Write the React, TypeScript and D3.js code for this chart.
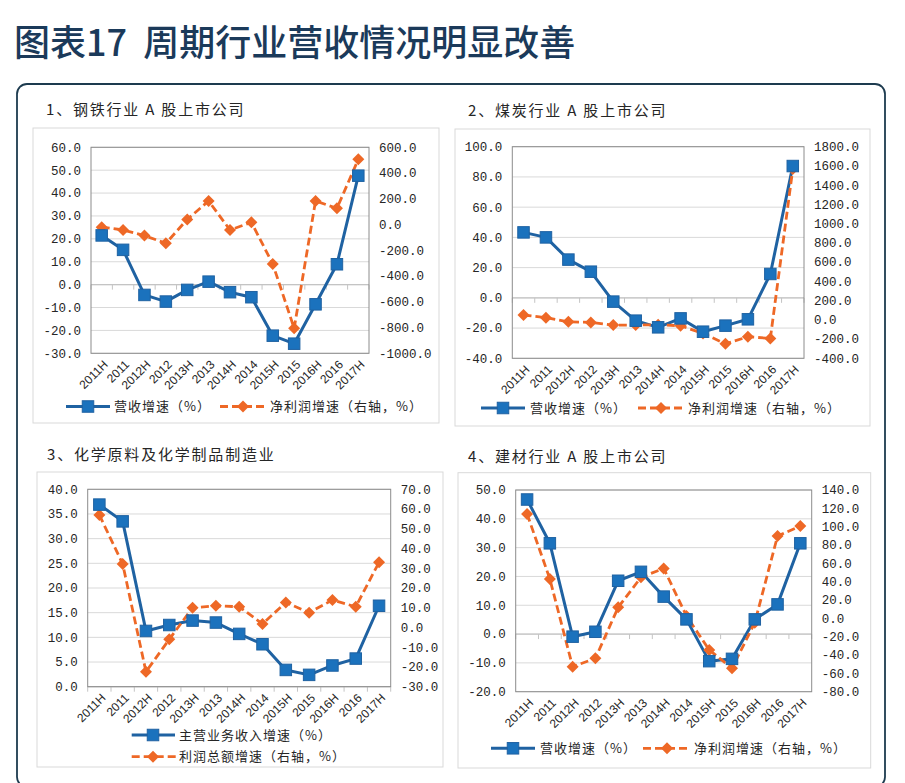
import React from "react";
import * as d3 from "d3";

// ---------- data ----------
const categories = ["2011H", "2011", "2012H", "2012", "2013H", "2013", "2014H", "2014", "2015H", "2015", "2016H", "2016", "2017H"];

const steelRevenue = [21.5, 15.2, -4.5, -7.4, -2.3, 1.3, -3.3, -5.5, -22.3, -25.8, -8.6, 8.9, 47.6];
const steelProfit = [-20, -42, -86, -146, 40, 183, -42, 17, -306, -806, 183, 126, 507];
const coalRevenue = [43.3, 40.0, 25.3, 17.3, -2.5, -15.1, -19.5, -13.6, -22.4, -18.4, -14.2, 15.8, 87.2];
const coalProfit = [50, 22, -20, -27, -55, -55, -50, -62, -141, -249, -176, -193, 1568];
const chemRevenue = [36.9, 33.5, 11.3, 12.5, 13.4, 13.0, 10.7, 8.6, 3.4, 2.4, 4.3, 5.7, 16.4];
const chemProfit = [57, 32.2, -22.4, -6, 10, 11, 10.5, 1.8, 12.7, 7.5, 13.9, 10.5, 33];
const buildRevenue = [46.7, 31.5, -0.9, 0.8, 18.5, 21.6, 13.0, 5.1, -9.4, -8.6, 5.1, 10.3, 31.5];
const buildProfit = [113.8, 43, -52.7, -43.6, 12, 44.7, 54.5, 2.6, -34.5, -54.5, -4.7, 89.8, 100.7];

const steelLeftTicks = [60, 50, 40, 30, 20, 10, 0, -10, -20, -30];
const steelRightTicks = [600, 400, 200, 0, -200, -400, -600, -800, -1000];
const coalLeftTicks = [100, 80, 60, 40, 20, 0, -20, -40];
const coalRightTicks = [1800, 1600, 1400, 1200, 1000, 800, 600, 400, 200, 0, -200, -400];
const chemLeftTicks = [40, 35, 30, 25, 20, 15, 10, 5, 0];
const chemRightTicks = [70, 60, 50, 40, 30, 20, 10, 0, -10, -20, -30];
const buildLeftTicks = [50, 40, 30, 20, 10, 0, -10, -20];
const buildRightTicks = [140, 120, 100, 80, 60, 40, 20, 0, -20, -40, -60, -80];

const mainTitle = "图表17  周期行业营收情况明显改善";
const panelTitles = ["1、钢铁行业 A 股上市公司", "2、煤炭行业 A 股上市公司", "3、化学原料及化学制品制造业", "4、建材行业 A 股上市公司"];
const revenueLabels = ["营收增速（%）", "营收增速（%）", "主营业务收入增速（%）", "营收增速（%）"];
const profitLabels = ["净利润增速（右轴，%）", "净利润增速（右轴，%）", "利润总额增速（右轴，%）", "净利润增速（右轴，%）"];

// ---------- styles ----------
const BLUE_LINE = "#1f62a2";
const BLUE_MARK = "#1b72bd";
const ORANGE = "#ee6826";
const GRID = "#d9d9d9";
const BORDER = "#8c8c8c";
const TEXT = "#262626";
const NUM_FONT = "'Liberation Mono', 'DejaVu Sans Mono', monospace";
const CJK_FONT = "'Noto Sans CJK SC', 'Noto Sans', sans-serif";
const LAT_FONT = "'Liberation Sans', Arial, sans-serif";

type Rect = { x0: number; y0: number; x1: number; y1: number };
type LegendItem = { x0: number; x1: number; mx: number; y: number; tx: number };
type PanelCfg = {
  frame: Rect;
  plot: Rect;
  title: string;
  titleX: number;
  titleY: number;
  rev: number[];
  prof: number[];
  leftTicks: number[];
  rightTicks: number[];
  revLabel: string;
  profLabel: string;
  revLeg: LegendItem;
  profLeg: LegendItem;
};

const panels: PanelCfg[] = [
  {
    frame: { x0: 33, y0: 128, x1: 439, y1: 423 },
    plot: { x0: 91, y0: 147.3, x1: 369, y1: 353.3 },
    title: panelTitles[0], titleX: 46, titleY: 110,
    rev: steelRevenue, prof: steelProfit,
    leftTicks: steelLeftTicks, rightTicks: steelRightTicks,
    revLabel: revenueLabels[0], profLabel: profitLabels[0],
    revLeg: { x0: 66, x1: 110, mx: 88, y: 406.5, tx: 114 },
    profLeg: { x0: 220, x1: 267, mx: 243, y: 406.5, tx: 270 },
  },
  {
    frame: { x0: 455, y0: 129, x1: 870, y1: 426 },
    plot: { x0: 512.3, y0: 146.7, x1: 804, y1: 358.3 },
    title: panelTitles[1], titleX: 468, titleY: 111,
    rev: coalRevenue, prof: coalProfit,
    leftTicks: coalLeftTicks, rightTicks: coalRightTicks,
    revLabel: revenueLabels[1], profLabel: profitLabels[1],
    revLeg: { x0: 481, x1: 525, mx: 503, y: 408, tx: 530 },
    profLeg: { x0: 638, x1: 685, mx: 661, y: 408, tx: 688 },
  },
  {
    frame: { x0: 37, y0: 472, x1: 443, y1: 767 },
    plot: { x0: 87.7, y0: 489.3, x1: 390.7, y1: 686.7 },
    title: panelTitles[2], titleX: 47, titleY: 455,
    rev: chemRevenue, prof: chemProfit,
    leftTicks: chemLeftTicks, rightTicks: chemRightTicks,
    revLabel: revenueLabels[2], profLabel: profitLabels[2],
    revLeg: { x0: 131.7, x1: 175, mx: 153, y: 735, tx: 179 },
    profLeg: { x0: 131.7, x1: 177, mx: 153, y: 756.7, tx: 179 },
  },
  {
    frame: { x0: 458, y0: 472.7, x1: 870.7, y1: 768 },
    plot: { x0: 515.7, y0: 490, x1: 811.7, y1: 691.7 },
    title: panelTitles[3], titleX: 468, titleY: 456.7,
    rev: buildRevenue, prof: buildProfit,
    leftTicks: buildLeftTicks, rightTicks: buildRightTicks,
    revLabel: revenueLabels[3], profLabel: profitLabels[3],
    revLeg: { x0: 491, x1: 535, mx: 513, y: 748.3, tx: 540 },
    profLeg: { x0: 643, x1: 690, mx: 667, y: 748.3, tx: 694 },
  },
];

function Square({ x, y, s = 11.5 }: { x: number; y: number; s?: number }) {
  return <rect x={x - s / 2} y={y - s / 2} width={s} height={s} fill={BLUE_MARK} stroke={BLUE_LINE} strokeWidth={1} />;
}

function Diamond({ x, y, r = 6 }: { x: number; y: number; r?: number }) {
  return <path d={`M${x},${y - r}L${x + r},${y}L${x},${y + r}L${x - r},${y}Z`} fill={ORANGE} />;
}

function Panel({ cfg }: { cfg: PanelCfg }) {
  const { frame, plot } = cfg;
  const x = d3.scaleBand<string>().domain(categories).range([plot.x0, plot.x1]);
  const bw = x.bandwidth();
  const cx = (i: number) => (x(categories[i]) as number) + bw / 2;
  const yL = d3
    .scaleLinear()
    .domain([d3.min(cfg.leftTicks) as number, d3.max(cfg.leftTicks) as number])
    .range([plot.y1, plot.y0]);
  const yR = d3
    .scaleLinear()
    .domain([d3.min(cfg.rightTicks) as number, d3.max(cfg.rightTicks) as number])
    .range([plot.y1, plot.y0]);

  const revLine = d3
    .line<number>()
    .x((_, i) => cx(i))
    .y((d) => yL(d));
  const profLine = d3
    .line<number>()
    .x((_, i) => cx(i))
    .y((d) => yR(d));

  const zeroY = yL(0);
  const boundaries = d3.range(categories.length + 1).map((i) => plot.x0 + i * bw);

  return (
    <g>
      <rect x={frame.x0} y={frame.y0} width={frame.x1 - frame.x0} height={frame.y1 - frame.y0} fill="#fff" stroke={GRID} strokeWidth={1} />
      <text x={cfg.titleX} y={cfg.titleY} dy="0.35em" fontFamily={CJK_FONT} fontSize={15} letterSpacing={1.8} fill={TEXT} style={{ whiteSpace: "pre" }}>
        {cfg.title}
      </text>
      {/* gridlines */}
      {cfg.leftTicks.map((t) => (
        <line key={"g" + t} x1={plot.x0} x2={plot.x1} y1={yL(t)} y2={yL(t)} stroke={GRID} strokeWidth={1} />
      ))}
      {/* zero axis with ticks */}
      <line x1={plot.x0} x2={plot.x1} y1={zeroY} y2={zeroY} stroke="#c4c4c4" strokeWidth={1.2} />
      {boundaries.map((bx, i) => (
        <line key={"t" + i} x1={bx} x2={bx} y1={zeroY} y2={zeroY + 5} stroke="#c4c4c4" strokeWidth={1} />
      ))}
      {/* plot border */}
      <rect x={plot.x0} y={plot.y0} width={plot.x1 - plot.x0} height={plot.y1 - plot.y0} fill="none" stroke={BORDER} strokeWidth={1} />
      {/* left tick labels */}
      {cfg.leftTicks.map((t) => (
        <text key={"l" + t} x={plot.x0 - 10} y={yL(t)} dy="0.35em" textAnchor="end" fontFamily={NUM_FONT} fontSize={12.5} fill={TEXT}>
          {t.toFixed(1)}
        </text>
      ))}
      {/* right tick labels */}
      {cfg.rightTicks.map((t) => (
        <text key={"r" + t} x={plot.x1 + 10} y={yR(t)} dy="0.35em" textAnchor="start" fontFamily={NUM_FONT} fontSize={12.5} fill={TEXT}>
          {t.toFixed(1)}
        </text>
      ))}
      {/* category labels */}
      {categories.map((c, i) => (
        <text
          key={"c" + c}
          transform={`translate(${cx(i) + 4},${plot.y1 + 9}) rotate(-45)`}
          textAnchor="end"
          dy="0.35em"
          fontFamily={LAT_FONT}
          fontSize={12}
          fill={TEXT}
        >
          {c}
        </text>
      ))}
      {/* series */}
      <path d={revLine(cfg.rev) as string} fill="none" stroke={BLUE_LINE} strokeWidth={3} strokeLinejoin="round" />
      <path d={profLine(cfg.prof) as string} fill="none" stroke={ORANGE} strokeWidth={2.8} strokeDasharray="8,4" />
      {cfg.prof.map((v, i) => (
        <Diamond key={"d" + i} x={cx(i)} y={yR(v)} />
      ))}
      {cfg.rev.map((v, i) => (
        <Square key={"s" + i} x={cx(i)} y={yL(v)} />
      ))}
      {/* legend */}
      <line x1={cfg.revLeg.x0} x2={cfg.revLeg.x1} y1={cfg.revLeg.y} y2={cfg.revLeg.y} stroke={BLUE_LINE} strokeWidth={3} />
      <Square x={cfg.revLeg.mx} y={cfg.revLeg.y} />
      <text x={cfg.revLeg.tx} y={cfg.revLeg.y} dy="0.35em" fontFamily={CJK_FONT} fontSize={13} letterSpacing={1} fill={TEXT}>
        {cfg.revLabel}
      </text>
      <line x1={cfg.profLeg.x0} x2={cfg.profLeg.x1} y1={cfg.profLeg.y} y2={cfg.profLeg.y} stroke={ORANGE} strokeWidth={2.8} strokeDasharray="8,4" />
      <Diamond x={cfg.profLeg.mx} y={cfg.profLeg.y} />
      <text x={cfg.profLeg.tx} y={cfg.profLeg.y} dy="0.35em" fontFamily={CJK_FONT} fontSize={13} letterSpacing={1} fill={TEXT}>
        {cfg.profLabel}
      </text>
    </g>
  );
}

export default function App() {
  return (
    <svg
      width={905}
      height={783}
      viewBox="0 0 905 783"
      style={{ position: "absolute", left: 0, top: 0, background: "#fff" }}
    >
      <rect x={0} y={0} width={905} height={783} fill="#fff" />
      <text x={14} y={56} fontFamily={CJK_FONT} fontSize={36} fontWeight={500} fill="#1b3a5a" style={{ whiteSpace: "pre" }}>
        {mainTitle}
      </text>
      <rect x={17} y={84} width={868} height={703} rx={10} ry={10} fill="none" stroke="#1d3b4f" strokeWidth={1.8} />
      {panels.map((p, i) => (
        <Panel key={i} cfg={p} />
      ))}
    </svg>
  );
}
